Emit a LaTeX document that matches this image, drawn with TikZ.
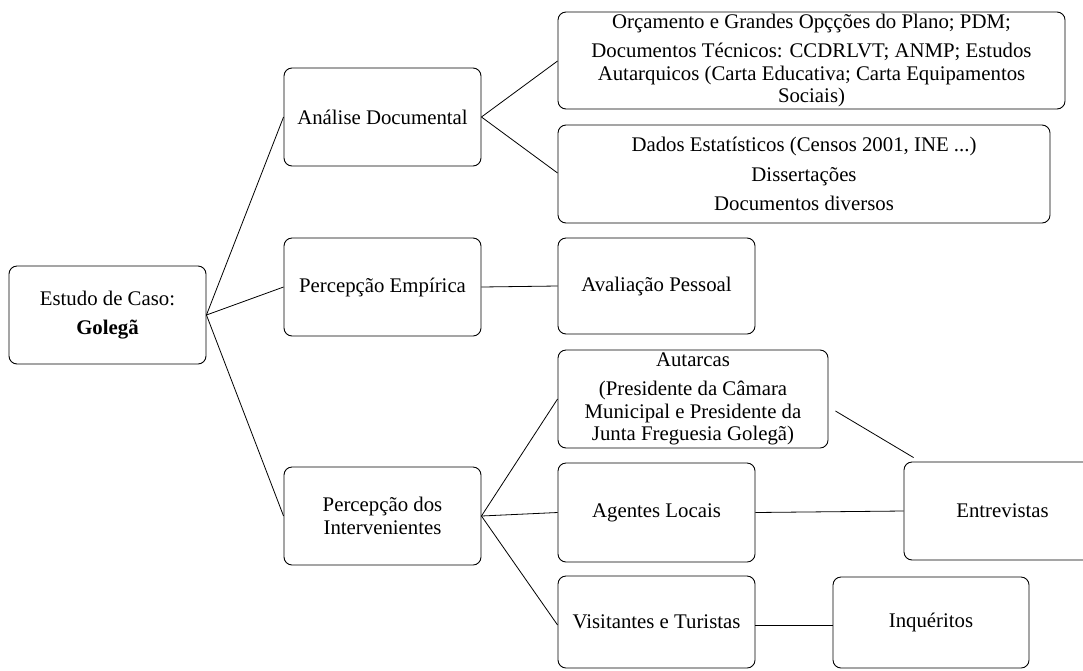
\documentclass[tikz,border=0pt]{standalone}
\usepackage{fontspec}
\setmainfont{Liberation Serif}
\usetikzlibrary{calc}
\begin{document}
\begin{tikzpicture}[x=1pt,y=-1pt,
  box/.style={draw, rounded corners=8pt, line width=0.9pt, align=center,
    inner sep=0pt, font=\fontsize{20.8}{22.5}\selectfont},
  link/.style={line width=0.8pt}]
\useasboundingbox (0,0) rectangle (1083,670);
\clip (0,0) rectangle (1083,670);
% level 0
\node[box, minimum width=197pt, minimum height=98pt] (root) at (107.5,315)
  {Estudo de Caso:\\[7pt]\textbf{Golegã}};
% level 1
\node[box, minimum width=197pt, minimum height=98pt] (ad) at (382.5,117)
  {Análise Documental};
\node[box, minimum width=197pt, minimum height=98pt] (pe) at (382.5,287)
  {Percepção Empírica};
\node[box, minimum width=197pt, minimum height=98pt] (int) at (382.5,516)
  {Percepção dos\\Intervenientes};
% level 2
\node[box, minimum width=507pt, minimum height=97pt] (b1) at (811.5,60.5)
  {Orçamento e Grandes Opçções do Plano; PDM;\\[7pt]
   Documentos Técnicos: CCDRLVT; ANMP; Estudos\\
   Autarquicos (Carta Educativa; Carta Equipamentos\\
   Sociais)};
\node[box, minimum width=492pt, minimum height=98pt] (b2) at (804,174)
  {Dados Estatísticos (Censos 2001, INE ...)\\[7pt]
   Dissertações\\[7pt]
   Documentos diversos};
\node[box, minimum width=197pt, minimum height=96pt] (ap) at (656.5,286)
  {Avaliação Pessoal};
\node[box, minimum width=270pt, minimum height=98pt] (aut) at (693,399)
  {Autarcas\\[7pt]
   (Presidente da Câmara\\
   Municipal e Presidente da\\
   Junta Freguesia Golegã)};
\node[box, minimum width=197pt, minimum height=99pt] (al) at (656.5,512.5)
  {Agentes Locais};
\node[box, minimum width=197pt, minimum height=92pt] (vt) at (656.5,622)
  {Visitantes e Turistas};
% level 3
\node[box, minimum width=197pt, minimum height=98pt] (ent) at (1002.5,511)
  {Entrevistas};
\node[box, minimum width=196pt, minimum height=91pt] (inq) at (931,622.5)
  {Inquéritos};
% connectors
\draw[link] (root.east) -- (ad.west);
\draw[link] (root.east) -- (pe.west);
\draw[link] (root.east) -- (int.west);
\draw[link] (ad.east) -- ($(b1.west)+(0,0.5)$);
\draw[link] (ad.east) -- ($(b2.west)+(0,-1)$);
\draw[link] (pe.east) -- (ap.west);
\draw[link] (int.east) -- (aut.west);
\draw[link] (int.east) -- (al.west);
\draw[link] (int.east) -- ($(vt.west)+(0,3)$);
\draw[link] ($(aut.east)+(7,12)$) -- ($(ent.north west)+(10,-4)$);
\draw[link] (al.east) -- (ent.west);
\draw[link] ($(vt.east)+(0,3)$) -- ($(inq.west)+(0,2.5)$);
\end{tikzpicture}
\end{document}
